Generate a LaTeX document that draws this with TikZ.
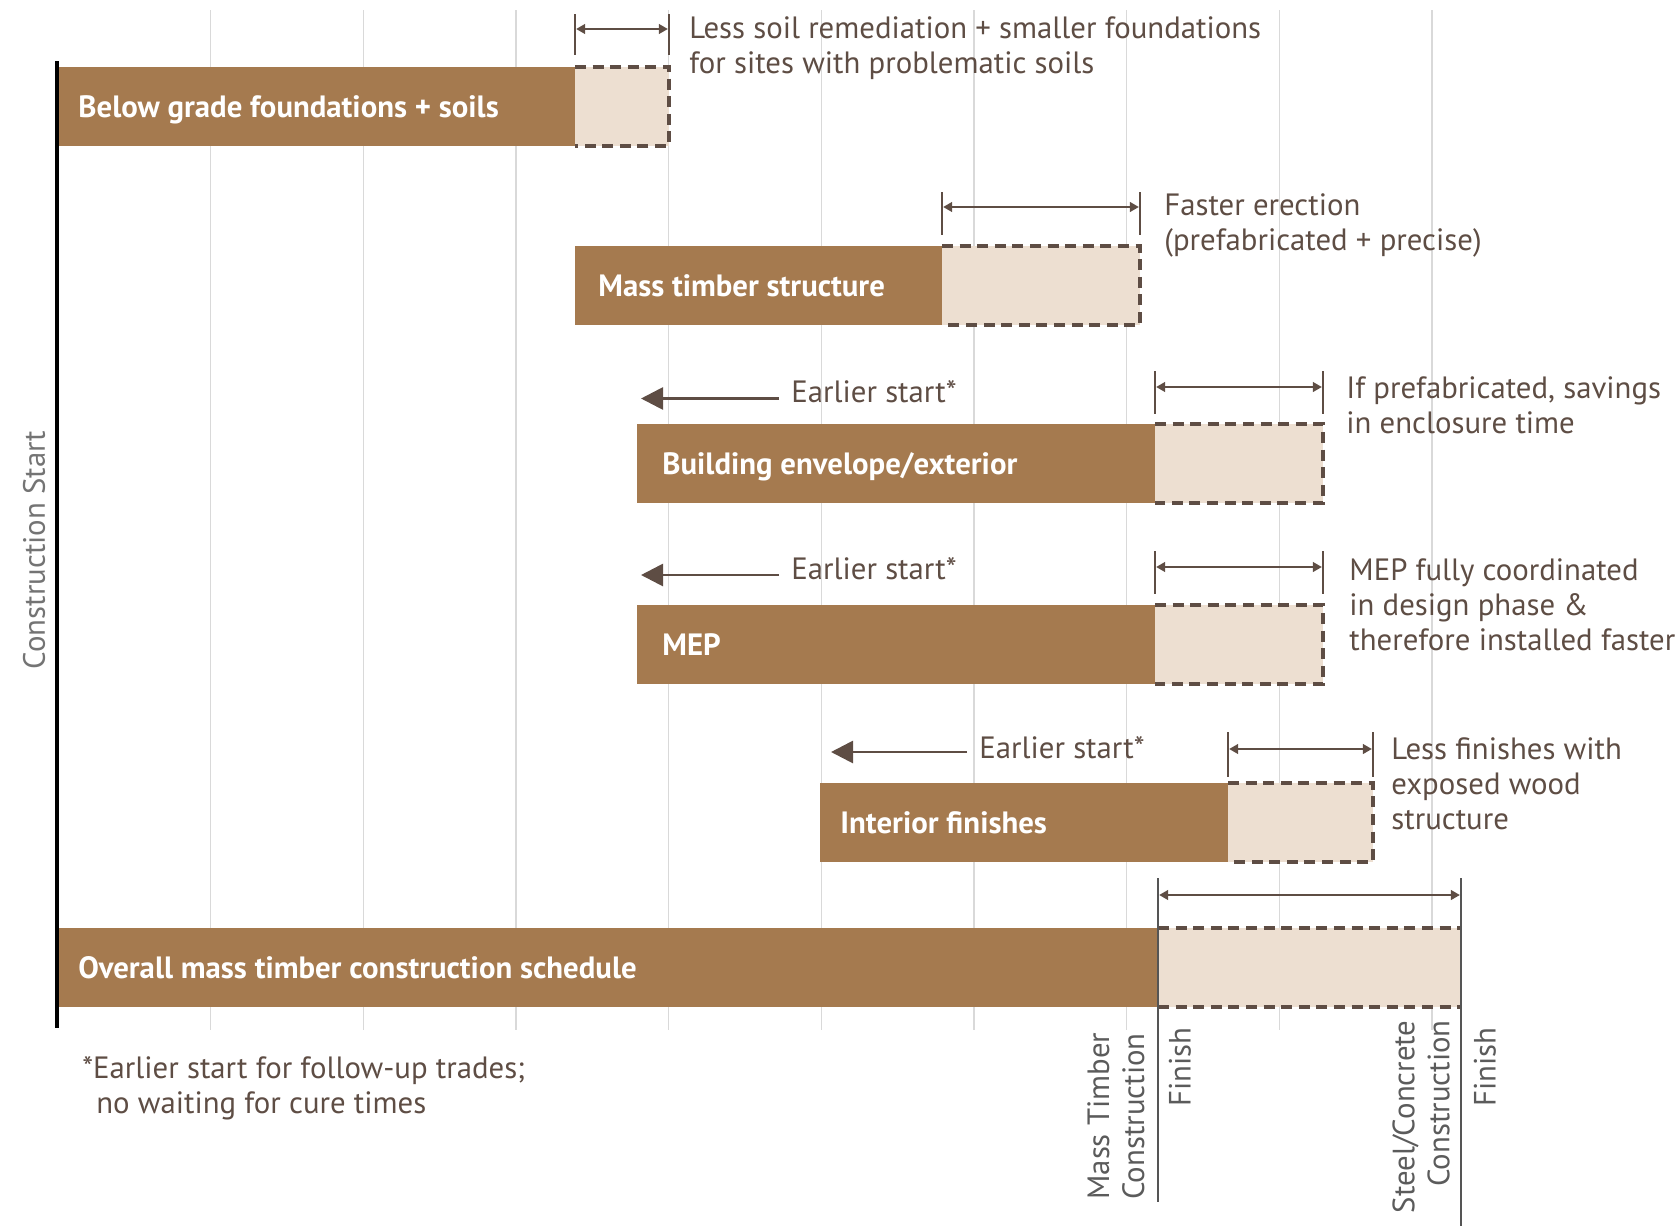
\documentclass[tikz,border=0pt]{standalone}
\usepackage{fontspec}
\setmainfont{PT Sans}
\usetikzlibrary{arrows.meta,calc}
\definecolor{barbrown}{HTML}{A57A4F}
\definecolor{savefill}{HTML}{EDDFD1}
\definecolor{darkline}{HTML}{5E4D44}
\definecolor{gridgray}{HTML}{D9D9D9}
\definecolor{labelgray}{HTML}{5B5B5B}
\definecolor{dimgray}{HTML}{555555}
\tikzset{
  gridline/.style={draw=gridgray, line width=0.65pt},
  solidbar/.style={fill=barbrown, draw=none, minimum height=39.5pt, inner sep=0pt, outer sep=0pt, anchor=north west},
  savebar/.style={fill=savefill, draw=none, minimum height=39.5pt, inner sep=0pt, outer sep=0pt, anchor=north west},
  dashedge/.style={draw=darkline, line width=1.6pt, dash pattern=on 5.5pt off 3.3pt},
  barlabel/.style={text=white, font=\bfseries\fontsize{15.4}{18}\selectfont, anchor=base west, inner sep=0pt},
  note/.style={text=darkline, font=\fontsize{15.4}{17.5}\selectfont, align=left, anchor=base west, inner sep=0pt},
  dimtick/.style={draw=darkline, line width=0.7pt},
  dimarrow/.style={draw=darkline, line width=0.7pt, {Triangle[length=4.5pt,width=5pt]}-{Triangle[length=4.5pt,width=5pt]}, shorten <=0.6pt, shorten >=0.6pt},
  earlyarrow/.style={draw=darkline, line width=1.4pt, -{Triangle[length=11pt,width=11pt]}},
  finishline/.style={draw=dimgray, line width=1.3pt},
  vlabel/.style={text=labelgray, font=\fontsize{15.4}{17.5}\selectfont, rotate=90, inner sep=0pt},
}
\begin{document}
\begin{tikzpicture}[x=0.5pt,y=-0.5pt]
\useasboundingbox (0,0) rectangle (1675,1226);
% grid
\foreach \gx in {210.5,363.2,515.9,668.6,821.3,974,1126.7,1279.4,1432.1}
  \draw[gridline] (\gx,10) -- (\gx,1030);

% bars
\node[solidbar, minimum width=259pt] (b1) at (57,67) {};
\node[savebar, minimum width=47pt] (s1) at (575,67) {};
\node[solidbar, minimum width=183.5pt] (b2) at (575,246) {};
\node[savebar, minimum width=99pt] (s2) at (942,246) {};
\node[solidbar, minimum width=259pt] (b3) at (637,424) {};
\node[savebar, minimum width=84pt] (s3) at (1155,424) {};
\node[solidbar, minimum width=259pt] (b4) at (637,605) {};
\node[savebar, minimum width=84pt] (s4) at (1155,605) {};
\node[solidbar, minimum width=204pt] (b5) at (820,783) {};
\node[savebar, minimum width=72.5pt] (s5) at (1228,783) {};
\node[solidbar, minimum width=550.5pt] (b6) at (57,928) {};
\node[savebar, minimum width=151.5pt] (s6) at (1158,928) {};

\foreach \s in {s1,s2,s3,s4,s5}
  \draw[dashedge] (\s.north west) -- (\s.north east) -- (\s.south east) -- (\s.south west);
\draw[dashedge] (s6.north west) -- (s6.north east);
\draw[dashedge] (s6.south west) -- (s6.south east);

% bar labels
\node[barlabel] (l1) at ($(b1.west)+(21,11)$) {Below grade foundations + soils};
\node[barlabel] (l2) at ($(b2.west)+(23,11)$) {Mass timber structure};
\node[barlabel] (l3) at ($(b3.west)+(25,11)$) {Building envelope/exterior};
\node[barlabel] (l4) at ($(b4.west)+(25,11)$) {MEP};
\node[barlabel] (l5) at ($(b5.west)+(20,11)$) {Interior finishes};
\node[barlabel] (l6) at ($(b6.west)+(21,11)$) {Overall mass timber construction schedule};

% axis
\draw[line width=2pt, black] (56.6,61) -- (56.6,1028);
\node[vlabel, text=labelgray!85] (cs) at (34,550) {Construction Start};

% dimension markers
\draw[dimtick] (575,14) -- (575,55);
\draw[dimtick] (669,14) -- (669,55);
\coordinate (d1a) at (575,29); \coordinate (d1b) at (669,29);
\draw[dimarrow] (d1a) -- (d1b);

\draw[dimtick] (942,192) -- (942,235);
\draw[dimtick] (1140,192) -- (1140,235);
\coordinate (d2a) at (942,207); \coordinate (d2b) at (1140,207);
\draw[dimarrow] (d2a) -- (d2b);

\draw[dimtick] (1155,371) -- (1155,414);
\draw[dimtick] (1323,371) -- (1323,414);
\coordinate (d3a) at (1155,387); \coordinate (d3b) at (1323,387);
\draw[dimarrow] (d3a) -- (d3b);

\draw[dimtick] (1155,551) -- (1155,594);
\draw[dimtick] (1323,551) -- (1323,594);
\coordinate (d4a) at (1155,567); \coordinate (d4b) at (1323,567);
\draw[dimarrow] (d4a) -- (d4b);

\draw[dimtick] (1228,732) -- (1228,777);
\draw[dimtick] (1373,732) -- (1373,777);
\coordinate (d5a) at (1228,749); \coordinate (d5b) at (1373,749);
\draw[dimarrow] (d5a) -- (d5b);

\draw[finishline] (1158,878) -- (1158,1202);
\draw[finishline] (1461,878) -- (1461,1226);
\coordinate (d6a) at (1158,895); \coordinate (d6b) at (1461,895);
\draw[dimarrow] (d6a) -- (d6b);

% annotations (anchored at the baseline of the last line)
\node[note] (a1) at (689,73) {Less soil remediation + smaller foundations\\for sites with problematic soils};
\node[note] (a2) at (1164,250) {Faster erection\\(prefabricated + precise)};
\node[note] (a3) at (1346,433) {If prefabricated, savings\\in enclosure time};
\node[note] (a4) at (1349,650) {MEP fully coordinated\\in design phase \&\\therefore installed faster};
\node[note] (a5) at (1391,829) {Less finishes with\\exposed wood\\structure};

% earlier start
\node[note, anchor=west] (e3) at (791,392) {Earlier start*};
\coordinate (e3t) at (641,398.5);
\draw[earlyarrow] ($(e3.west)+(-12,6.5)$) -- (e3t);
\node[note, anchor=west] (e4) at (791,569) {Earlier start*};
\coordinate (e4t) at (641,575);
\draw[earlyarrow] ($(e4.west)+(-12,6)$) -- (e4t);
\node[note, anchor=west] (e5) at (979,748) {Earlier start*};
\coordinate (e5t) at (831,752);
\draw[earlyarrow] ($(e5.west)+(-12,4)$) -- (e5t);

% footnote
\node[note] (fn) at (82,1113) {*Earlier start for follow-up trades;\\\hspace{7pt}no waiting for cure times};

% bottom labels
\node[vlabel, anchor=west, align=left] (mt) at (1116,1200) {Mass Timber\\Construction};
\node[vlabel, anchor=east] (f1) at (1180,1027) {Finish};
\node[vlabel, anchor=east, align=right] (sc) at (1421,1020) {Steel/Concrete\\Construction};
\node[vlabel, anchor=east] (f2) at (1485,1027) {Finish};
\end{tikzpicture}
\end{document}
